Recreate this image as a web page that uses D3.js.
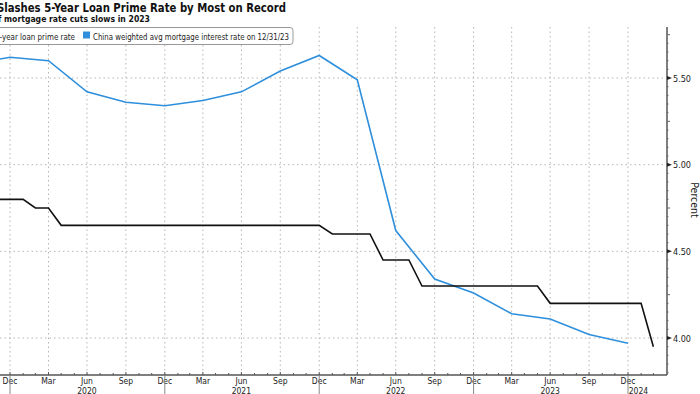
<!DOCTYPE html>
<html>
<head>
<meta charset="utf-8">
<script src="https://cdn.jsdelivr.net/npm/d3@7"></script>
<style>
body{margin:0;background:#fff;}
svg{display:block;}
text{font-family:"DejaVu Sans Condensed","DejaVu Sans",sans-serif;fill:#222;}
.ttl{font-family:"DejaVu Sans",sans-serif;font-weight:bold;fill:#111;}
</style>
</head>
<body>
<div id="chart"></div>
<script>
// 5-year LPR, monthly (month end)
var lprMonths=["2019-10","2019-11","2019-12",
"2020-01","2020-02","2020-03","2020-04","2020-05","2020-06","2020-07","2020-08","2020-09","2020-10","2020-11","2020-12",
"2021-01","2021-02","2021-03","2021-04","2021-05","2021-06","2021-07","2021-08","2021-09","2021-10","2021-11","2021-12",
"2022-01","2022-02","2022-03","2022-04","2022-05","2022-06","2022-07","2022-08","2022-09","2022-10","2022-11","2022-12",
"2023-01","2023-02","2023-03","2023-04","2023-05","2023-06","2023-07","2023-08","2023-09","2023-10","2023-11","2023-12",
"2024-01","2024-02"];
var lprValues=[4.85,4.80,4.80,
4.80,4.75,4.75,4.65,4.65,4.65,4.65,4.65,4.65,4.65,4.65,4.65,
4.65,4.65,4.65,4.65,4.65,4.65,4.65,4.65,4.65,4.65,4.65,4.65,
4.60,4.60,4.60,4.60,4.45,4.45,4.45,4.30,4.30,4.30,4.30,4.30,
4.30,4.30,4.30,4.30,4.30,4.20,4.20,4.20,4.20,4.20,4.20,4.20,
4.20,3.95];

// weighted avg mortgage rate, quarterly (quarter end)
var mortQuarters=["2019-09","2019-12","2020-03","2020-06","2020-09","2020-12","2021-03","2021-06","2021-09","2021-12",
"2022-03","2022-06","2022-09","2022-12","2023-03","2023-06","2023-09","2023-12"];
var mortValues=[5.58,5.62,5.60,5.42,5.36,5.34,5.37,5.42,5.54,5.63,5.49,4.62,4.34,4.26,4.14,4.11,4.02,3.97];

var yTicks=[4.00,4.50,5.00,5.50];
var monthNames=["Jan","Feb","Mar","Apr","May","Jun","Jul","Aug","Sep","Oct","Nov","Dec"];
var yearLabels=["2020","2021","2022","2023","2024"];

var width=700,height=394;
var plotLeft=0,plotRight=667,plotTop=27,plotBottom=375;

// month end date
function monthEnd(s){var p=s.split("-");return new Date(+p[0],+p[1],0);}

var svg=d3.select("#chart").append("svg").attr("width",width).attr("height",height);

var x=d3.scaleTime().domain([new Date(2019,11,31),new Date(2023,11,31)]).range([10,628]);
var y=d3.scaleLinear().domain([4,5.5]).range([338,78]);

var allMonths=d3.range(0,51).map(function(i){return new Date(2019,11+i+1,0);}); // Dec 2019 .. Feb 2024
var quarterEnds=allMonths.filter(function(d){return (d.getMonth()+1)%3==0;});

// grid
svg.append("g").selectAll("line").data(quarterEnds).enter().append("line")
.attr("x1",d=>x(d)).attr("x2",d=>x(d))
.attr("y1",plotTop).attr("y2",plotBottom)
.attr("stroke","#b5b5b5").attr("stroke-width",1).attr("stroke-dasharray","1.5,3");

svg.append("g").selectAll("line").data(yTicks).enter().append("line")
.attr("x1",plotLeft).attr("x2",plotRight)
.attr("y1",d=>y(d)).attr("y2",d=>y(d))
.attr("stroke","#b5b5b5").attr("stroke-width",1).attr("stroke-dasharray","1.5,3");

// lines
var lprData=lprMonths.map((m,i)=>({date:monthEnd(m),value:lprValues[i]}));
var mortData=mortQuarters.map((m,i)=>({date:monthEnd(m),value:mortValues[i]}));
var line=d3.line().x(d=>x(d.date)).y(d=>y(d.value));

svg.append("path").datum(mortData).attr("d",line)
.attr("fill","none").attr("stroke","#2e8fdc").attr("stroke-width",1.6);
svg.append("path").datum(lprData).attr("d",line)
.attr("fill","none").attr("stroke","#111").attr("stroke-width",1.6);

// x axis
svg.append("line").attr("x1",plotLeft).attr("x2",plotRight).attr("y1",plotBottom).attr("y2",plotBottom)
.attr("stroke","#555").attr("stroke-width",1.5);
svg.append("g").selectAll("line").data(allMonths).enter().append("line")
.attr("x1",d=>x(d)).attr("x2",d=>x(d))
.attr("y1",plotBottom).attr("y2",d=>(d.getMonth()+1)%3==0?plotBottom-3:plotBottom-2)
.attr("stroke","#555");
svg.append("g").selectAll("text").data(quarterEnds).enter().append("text")
.attr("x",d=>x(d)).attr("y",383.5).attr("text-anchor","middle")
.attr("font-size","8.5px").text(d=>monthNames[d.getMonth()]);
// year separators
var decs=allMonths.filter(d=>d.getMonth()==11);
svg.append("g").selectAll("line").data(decs).enter().append("line")
.attr("x1",d=>x(d)).attr("x2",d=>x(d)).attr("y1",plotBottom).attr("y2",height)
.attr("stroke","#888");
svg.append("g").selectAll("text").data(yearLabels).enter().append("text")
.attr("x",(d,i)=>i<4?x(new Date(+d,5,30)):x(new Date(+d,0,20))+2)
.attr("y",393.5).attr("text-anchor","middle").attr("font-size","8.5px").text(d=>d);

// y axis (right)
svg.append("line").attr("x1",plotRight).attr("x2",plotRight).attr("y1",plotTop).attr("y2",plotBottom)
.attr("stroke","#555").attr("stroke-width",1.5);
var minor=d3.range(3.80,5.80,0.05).filter(v=>y(v)>=plotTop&&y(v)<=plotBottom);
svg.append("g").selectAll("line").data(minor).enter().append("line")
.attr("x1",plotRight).attr("x2",v=>Math.abs(v*4-Math.round(v*4))<0.01?plotRight+3:plotRight+1.5)
.attr("y1",v=>y(v)).attr("y2",v=>y(v)).attr("stroke","#666");
svg.append("g").selectAll("path").data(yTicks).enter().append("path")
.attr("d",v=>"M"+plotRight+","+(y(v)-2)+"L"+(plotRight+5)+","+y(v)+"L"+plotRight+","+(y(v)+2)+"Z")
.attr("fill","#222");
svg.append("g").selectAll("text").data(yTicks).enter().append("text")
.attr("x",plotRight+6).attr("y",v=>y(v)+3.5).attr("font-size","9px").text(v=>v.toFixed(2));
svg.append("text").attr("transform","translate(691,"+200+") rotate(90)")
.attr("text-anchor","middle").attr("font-size","10.5px").text("Percent");

// legend
svg.append("rect").attr("x",-6).attr("y",27.5).attr("width",299).attr("height",17).attr("rx",3)
.attr("fill","#fff").attr("stroke","#999");
svg.append("text").attr("x",-5).attr("y",39.5).attr("font-size","9px")
.attr("textLength",80).attr("lengthAdjust","spacingAndGlyphs").text("5-year loan prime rate");
svg.append("rect").attr("x",83).attr("y",31.5).attr("width",7).attr("height",7).attr("fill","#2e8fdc");
svg.append("text").attr("x",93).attr("y",39.5).attr("font-size","9px")
.attr("textLength",196).attr("lengthAdjust","spacingAndGlyphs")
.text("China weighted avg mortgage interest rate on 12/31/23");

// titles
svg.append("text").attr("class","ttl").attr("x",-3).attr("y",12).attr("font-size","12.5px")
.attr("textLength",289).attr("lengthAdjust","spacingAndGlyphs")
.text("Slashes 5-Year Loan Prime Rate by Most on Record");
svg.append("text").attr("class","ttl").attr("x",-2).attr("y",22).attr("font-size","9px")
.attr("textLength",152).attr("lengthAdjust","spacingAndGlyphs")
.text("f mortgage rate cuts slows in 2023");
</script>
</body>
</html>
